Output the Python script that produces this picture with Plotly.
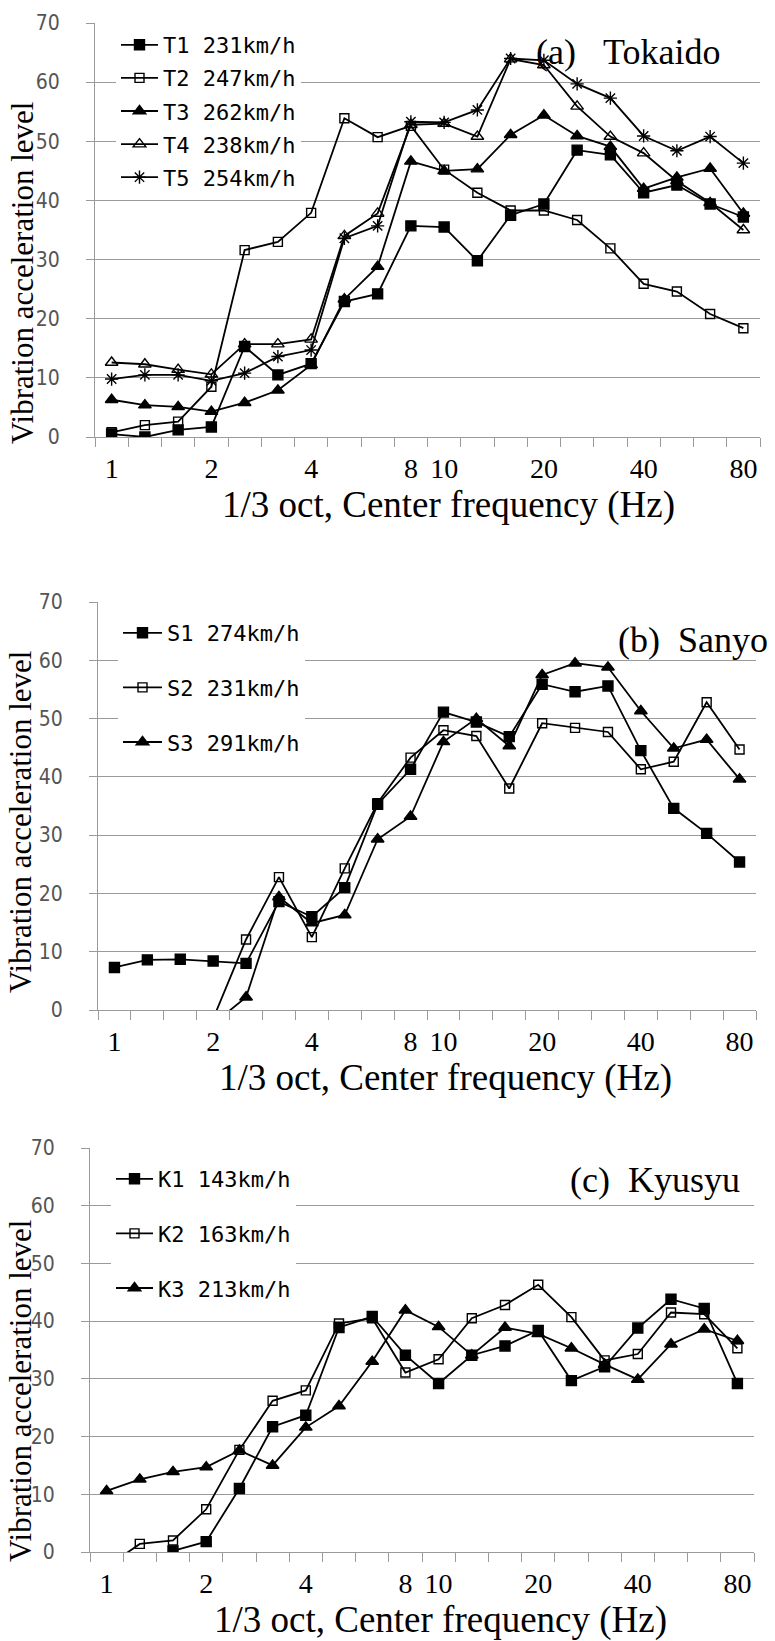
import plotly.graph_objects as go

W, H = 775, 1641

# 1/3 octave centre frequencies (Hz) -- categories
freqs = ["1", "1.25", "1.6", "2", "2.5", "3.15", "4", "5", "6.3", "8",
         "10", "12.5", "16", "20", "25", "31.5", "40", "50", "63", "80"]
tick_labels = ["1", "2", "4", "8", "10", "20", "40", "80"]

# (a) Tokaido
T1 = [0.5, 0.0, 1.2, 1.7, 15.3, 10.5, 12.4, 22.9, 24.2, 35.7, 35.5, 29.8, 37.5, 39.4, 48.5, 47.7, 41.3, 42.6, 39.4, 37.2]
T2 = [0.8, 2.0, 2.6, 8.5, 31.6, 33.0, 37.9, 53.9, 50.7, 52.6, 45.2, 41.3, 38.3, 38.3, 36.7, 31.9, 25.9, 24.6, 20.8, 18.4]
T3 = [6.3, 5.4, 5.1, 4.3, 5.8, 7.9, 12.2, 23.3, 28.8, 46.6, 45.0, 45.3, 51.1, 54.4, 50.9, 49.1, 42.0, 43.9, 45.4, 37.8]
T4 = [12.6, 12.3, 11.4, 10.6, 15.7, 15.7, 16.5, 34.0, 37.8, 52.8, 53.0, 50.8, 63.9, 62.9, 55.9, 50.8, 48.0, 43.3, 39.6, 35.0]
T5 = [9.8, 10.5, 10.5, 9.5, 10.8, 13.6, 14.7, 33.6, 35.7, 53.3, 53.2, 55.3, 64.0, 63.7, 59.7, 57.3, 50.9, 48.4, 50.8, 46.3]

# (b) Sanyo
S1 = [7.3, 8.6, 8.7, 8.4, 8.0, 18.6, 16.0, 21.0, 35.3, 41.3, 51.1, 49.4, 46.9, 55.9, 54.6, 55.6, 44.5, 34.6, 30.3, 25.4]
S2 = [None, None, None, -1.5, 12.1, 22.8, 12.5, 24.3, 35.5, 43.3, 48.0, 47.0, 38.0, 49.2, 48.4, 47.7, 41.3, 42.6, 52.8, 44.7]
S3 = [None, None, None, -2.4, 2.2, 19.4, 14.9, 16.3, 29.3, 33.2, 46.0, 50.0, 45.3, 57.5, 59.5, 58.8, 51.3, 44.9, 46.4, 39.6]

# (c) Kyusyu
K1 = [None, None, 0.2, 1.8, 11.0, 21.7, 23.7, 38.9, 40.8, 34.1, 29.2, 34.1, 35.7, 38.4, 29.7, 32.1, 38.8, 43.8, 42.2, 29.2]
K2 = [-2.6, 1.4, 2.0, 7.4, 17.7, 26.2, 28.0, 39.6, 40.5, 31.1, 33.4, 40.5, 42.8, 46.3, 40.7, 33.2, 34.3, 41.5, 41.2, 35.3]
K3 = [10.6, 12.6, 13.9, 14.7, 17.6, 15.0, 21.6, 25.3, 33.0, 41.9, 39.0, 34.1, 38.9, 37.8, 35.3, 32.5, 29.9, 36.0, 38.6, 36.6]

panel_a = [("T1\u00a0231km/h", T1, "square", 10), ("T2\u00a0247km/h", T2, "square-open", 9),
           ("T3\u00a0262km/h", T3, "triangle-up", 11), ("T4\u00a0238km/h", T4, "triangle-up-open", 11),
           ("T5\u00a0254km/h", T5, "asterisk-open", 11)]
panel_b = [("S1\u00a0274km/h", S1, "square", 10), ("S2\u00a0231km/h", S2, "square-open", 9),
           ("S3\u00a0291km/h", S3, "triangle-up", 11)]
panel_c = [("K1\u00a0143km/h", K1, "square", 10), ("K2\u00a0163km/h", K2, "square-open", 9),
           ("K3\u00a0213km/h", K3, "triangle-up", 11)]

xs = list(range(len(freqs)))
tickpos = [freqs.index(t) for t in tick_labels]

def px_x(x):
    return x / W

def px_y(y):
    return 1 - y / H

# plot areas in pixels: (left, right, top, bottom)
areas = [(95, 760, 23, 437), (98, 756, 602, 1010), (90, 754, 1148, 1552)]
legends = [dict(x=116, top=24, iw=37, gap=1.5),
           dict(x=118, top=612, iw=39, gap=23),
           dict(x=111, top=1158, iw=37, gap=23)]
titles = [("(a)\u00a0\u00a0\u00a0Tokaido", 722, 52), ("(b)\u00a0\u00a0Sanyo", 770, 640), ("(c)\u00a0\u00a0Kyusyu", 742, 1180)]
xtitle_pos = [(448, 505), (445, 1078), (440, 1620)]
ytitle_pos = [(22, 273), (20, 822), (20, 1391)]

fig = go.Figure()
GRID = "#9a9a9a"
annotations = []

for i, (panel, area, leg, ttl, xt, yt) in enumerate(zip(
        [panel_a, panel_b, panel_c], areas, legends, titles, xtitle_pos, ytitle_pos)):
    sfx = "" if i == 0 else str(i + 1)
    legname = "legend" + sfx
    for name, vals, sym, size in panel:
        fig.add_trace(go.Scatter(
            x=xs, y=vals, name=name, mode="lines+markers",
            line=dict(color="black", width=1.8),
            marker=dict(symbol=sym, size=size, color="black",
                        line=dict(color="black", width=1.4)),
            xaxis="x" + sfx, yaxis="y" + sfx, legend=legname,
            legendgroup=name, connectgaps=False, cliponaxis=True,
        ))
    l, r, t, b = area
    fig.layout["xaxis" + sfx] = dict(
        domain=[px_x(l), px_x(r)], anchor="y" + sfx, range=[-0.5, len(freqs) - 0.5],
        tickmode="array", tickvals=tickpos, ticktext=tick_labels, ticks="",
        tickfont=dict(family="Liberation Serif, DejaVu Serif, serif", size=28, color="black"),
        ticklabelstandoff=6, automargin=False,
        showline=True, linecolor=GRID, linewidth=1.2, showgrid=False, zeroline=False,
        minor=dict(tick0=-0.5, dtick=1, ticks="outside", ticklen=9, tickcolor=GRID, tickwidth=1.2,
                   showgrid=False),
    )
    fig.layout["yaxis" + sfx] = dict(
        domain=[px_y(b), px_y(t)], anchor="x" + sfx, range=[0, 70],
        tickmode="array", tickvals=[0, 10, 20, 30, 40, 50, 60, 70],
        ticks="outside", ticklen=8, tickcolor=GRID, tickwidth=1.2,
        tickfont=dict(family="Liberation Sans Narrow, DejaVu Sans Condensed, sans-serif", size=21, color="#555555"),
        ticklabelstandoff=22, automargin=False,
        showline=True, linecolor=GRID, linewidth=1.2,
        showgrid=True, gridcolor=GRID, gridwidth=1.2, zeroline=False,
    )
    fig.layout[legname] = dict(
        x=px_x(leg["x"]), y=px_y(leg["top"]), xanchor="left", yanchor="top",
        bgcolor="white", borderwidth=0, itemwidth=leg["iw"],
        traceorder="grouped", tracegroupgap=leg["gap"],
        font=dict(family="DejaVu Sans Mono, monospace", size=22, color="black"),
        itemclick=False, itemdoubleclick=False,
    )
    annotations.append(dict(
        text=ttl[0], x=px_x(ttl[1]), y=px_y(ttl[2]), xref="paper", yref="paper",
        xanchor="right", yanchor="middle", showarrow=False,
        font=dict(family="Liberation Serif, DejaVu Serif, serif", size=36, color="black")))
    annotations.append(dict(
        text="1/3 oct, Center frequency (Hz)", x=px_x(xt[0]), y=px_y(xt[1]),
        xref="paper", yref="paper", xanchor="center", yanchor="middle", showarrow=False,
        font=dict(family="Liberation Serif, DejaVu Serif, serif", size=37, color="black")))
    annotations.append(dict(
        text="Vibration acceleration level", x=px_x(yt[0]), y=px_y(yt[1]),
        xref="paper", yref="paper", xanchor="center", yanchor="middle", showarrow=False,
        textangle=-90,
        font=dict(family="Liberation Serif, DejaVu Serif, serif", size=31, color="black")))

fig.update_layout(
    width=W, height=H, margin=dict(l=0, r=0, t=0, b=0, pad=0, autoexpand=False),
    paper_bgcolor="white", plot_bgcolor="white",
    showlegend=True, annotations=annotations,
)

fig.write_html("out.html", config={"displayModeBar": False},
               post_script="document.body.style.margin='0';")
